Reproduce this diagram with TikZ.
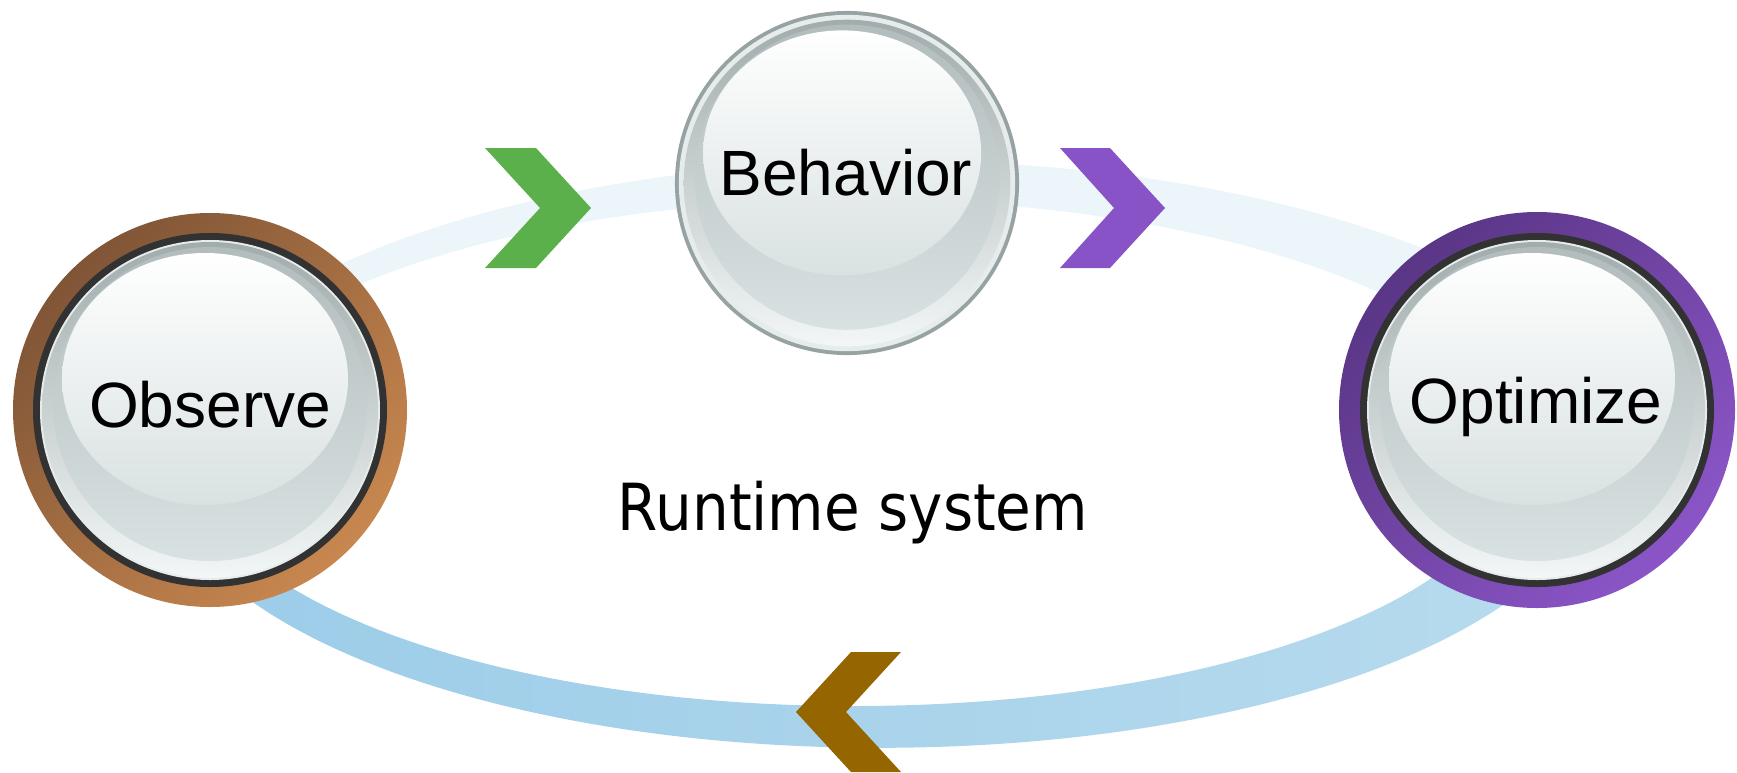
\documentclass[tikz,border=0pt]{standalone}
\usepackage{fontspec}
\usepackage{graphicx}
\setmainfont{Liberation Sans}
\newfontfamily\handfont{DejaVu Sans}

\definecolor{bandTop}{HTML}{ECF5FA}
\definecolor{bandBlue}{HTML}{9BCCE8}
\definecolor{bandLight}{HTML}{B8DBEE}
\definecolor{chevGreen}{HTML}{5BB04C}
\definecolor{chevPurple}{HTML}{8753C6}
\definecolor{chevBrown}{HTML}{956500}
\definecolor{brownDark}{HTML}{805536}
\definecolor{brownLight}{HTML}{C8874F}
\definecolor{purpDark}{HTML}{5A3686}
\definecolor{purpLight}{HTML}{8B55C7}
\definecolor{rimDark}{HTML}{323232}
\definecolor{rimGray}{HTML}{97A2A2}
\definecolor{rimLight}{HTML}{E6ECEC}
\definecolor{bezelTop}{HTML}{A2ACAC}
\definecolor{bezelBot}{HTML}{F2F6F6}
\definecolor{diskTop}{HTML}{B2BCBC}
\definecolor{diskBot}{HTML}{D9E2E2}
\definecolor{glossTop}{HTML}{FFFFFF}
\definecolor{glossBot}{HTML}{D9E1E1}

\tikzset{
  chevron/.style={fill=#1, draw=none},
  knoblabel/.style={font=\fontsize{64}{72}\selectfont, text=black, inner sep=0pt, anchor=base},
  colourring/.style n args={2}{shading=axis, top color=#1, bottom color=#2, shading angle=45},
}

% glass button: #1 centre, #2 rim colour, #3 inner radius of rim, #4 scale
\newcommand\glassknob[4]{%
  \begin{scope}[shift={(#1)}, scale=#4]
    \fill[#2] (0,0) circle[radius=177pt];
    \fill[rimLight] (0,0) circle[radius=#3];
    \shade[top color=bezelTop, bottom color=bezelBot] (0,0) circle[radius=168pt];
    \shade[top color=diskTop, middle color=diskTop!55!diskBot, bottom color=diskBot] (0,-6) circle[radius=157pt];
    \shade[top color=glossTop, bottom color=glossBot] (-5,-31) ellipse[x radius=143pt, y radius=126pt];
  \end{scope}%
}

\begin{document}
\begin{tikzpicture}[x=1pt,y=-1pt]
\useasboundingbox (0,0) rectangle (1737,772);

% centres of the three stages
\coordinate (obs) at (210,410);
\coordinate (beh) at (847,183);
\coordinate (opt) at (1537,410);

% upper half of the loop (pale), the part above the stage centres
\begin{scope}
  \clip (0,0) rectangle (1737,460);
  \fill[bandTop, even odd rule]
    (900,480) ellipse[x radius=760pt, y radius=319pt]
    (860,462.5) ellipse[x radius=680pt, y radius=263pt];
\end{scope}

% lower half of the loop (blue)
\begin{scope}
  \clip (0,460) rectangle (1737,772);
  \shade[left color=bandBlue, middle color=bandBlue, right color=bandLight, even odd rule]
    (880,461.3) ellipse[x radius=720pt, y radius=286.5pt]
    (854,454.5) ellipse[x radius=663pt, y radius=251.5pt];
\end{scope}

% direction chevrons
\fill[chevron=chevGreen] (485,148) -- (536,148) -- (591,208) -- (536,268) -- (485,268) -- (540,208) -- cycle;
\fill[chevron=chevPurple] (1060,148) -- (1110,148) -- (1165,208) -- (1110,268) -- (1060,268) -- (1114,208) -- cycle;
\fill[chevron=chevBrown] (901,652) -- (851,652) -- (796,712) -- (851,772) -- (901,772) -- (846,712) -- cycle;

% Observe
\shade[colourring={brownDark}{brownLight}] (obs) circle[radius=197pt];
\glassknob{obs}{rimDark}{170pt}{1}
\node[knoblabel] (obsT) at (210,427) {Observe};

% Behavior
\glassknob{beh}{rimGray}{173pt}{0.972}
\node[knoblabel] (behT) at (846,195) {Behavior};

% Optimize
\shade[colourring={purpDark}{purpLight}] (opt) circle[radius=198pt];
\glassknob{opt}{rimDark}{170pt}{1}
\node[knoblabel] (optT) at (1536,423) {Optimize};

% caption
\node[anchor=base, inner sep=0pt] (rt) at (853,530)
  {\handfont\fontsize{58}{62}\selectfont\scalebox{1}[1.12]{Runtime system}};
\end{tikzpicture}
\end{document}
